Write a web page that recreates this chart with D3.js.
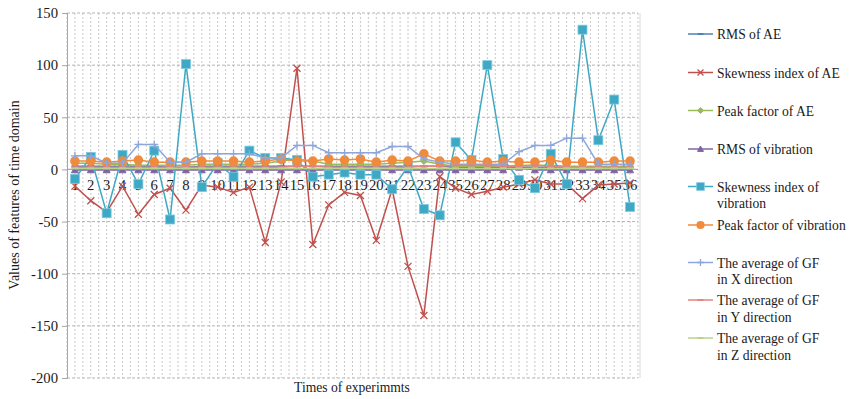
<!DOCTYPE html>
<html>
<head>
<meta charset="utf-8">
<script src="https://cdn.jsdelivr.net/npm/d3@7/dist/d3.min.js"></script>
<style>
  html, body { margin: 0; padding: 0; background: #fff; }
  svg { display: block; }
  text { font-family: "Liberation Serif", "Times New Roman", serif; fill: #1a1a1a; }
</style>
</head>
<body>
<svg id="chart" width="860" height="399"></svg>
<script>
// Experiment numbers (the 25th label reads "35" on the axis)
const categories = d3.range(1, 37);
const tickLabels = ["1","2","3","4","5","6","7","8","9","10","11","12","13","14","15","16","17","18",
  "19","20","21","22","23","24","35","26","27","28","29","30","31","32","33","34","35","36"];
const yTicks = [150, 100, 50, 0, -50, -100, -150, -200];

const seriesNames = ["RMS of AE", "Skewness index of AE", "Peak factor of AE", "RMS of vibration",
  "Skewness index of vibration", "Peak factor of vibration",
  "The average of GF in X direction", "The average of GF in Y direction", "The average of GF in Z direction"];

const rmsAE = [3,3,3,3,3,3,2,2,3,3,3,3,3,3,3,3,3,3,3,3,3,3,3,3,2,2,2,2,2,2,2,2,2,2,2,2];
const skewAE = [-16,-30,-41,-16,-43,-24,-18,-39,-15,-17,-22,-17,-70,-12,97,-72,-34,-22,-25,-68,
  -19,-93,-140,-7,-18,-24,-21,-17,-14,-10,-14,-14,-28,-15,-14,-13];
const peakAE = [6,6,5,5,4,4,4,4,5,5,5,5,6,8,10,8,5,5,5,5,6,7,8,5,3,3,3,3,4,4,4,3,3,3,3,3];
const rmsVib = [-0.5,-0.5,-0.5,-0.5,-0.5,-0.5,-0.5,-0.5,-0.5,-0.5,-0.5,-0.5,-0.5,-0.5,-0.5,-0.5,-0.5,-0.5,
  -0.5,-0.5,-0.5,-0.5,-0.5,-0.5,-0.5,-0.5,-0.5,-0.5,2,-0.5,-0.5,-0.5,-0.5,-0.5,-0.5,-0.5];
const skewVib = [-9,12,-42,14,-14,18,-48,101,-17,6,-7,18,11,11,9,-7,-5,-3,-5,-5,-19,3,-38,-44,
  26,9,100,10,-10,-18,15,-14,134,28,67,-36];
const peakVib = [8,8,7,8,9,7,7,7,8,8,8,7,8,10,8,8,10,9,10,7,9,8,15,8,8,9,7,8,7,7,9,7,7,7,8,8];
const gfX = [13,13,6,6,24,24,7,7,15,15,15,15,11,11,23,23,16,16,16,16,22,22,10,7,5,5,5,5,17,23,23,30,30,5,5,5];
const gfY = [2,2,2,2,2,2,2,2,2,2,2,2,2,2,3,3,2,2,2,2,2,2,3,3,4,4,4,3,3,4,3,2,2,2,2,2];
const gfZ = [1,1,1,1,1,1,1,1,1,1,1,1,1,1,1,1,1,1,1,1,1,1,1,1,1,1,1,1,1,1,1,1,1,1,1,1];

const seriesValues = [rmsAE, skewAE, peakAE, rmsVib, skewVib, peakVib, gfX, gfY, gfZ];
const colors = ["#4F81BD", "#C0504D", "#9BBB59", "#8064A2", "#3FA8C4", "#F08A3C", "#8FA6DA", "#E08582", "#B9D48A"];
const markers = ["dash", "x", "diamond", "triangle", "square", "circle", "plus", "dash", "dash"];

const svg = d3.select("#chart");
const plot = { left: 67, right: 638, top: 13, bottom: 378 };

const x = d3.scalePoint().domain(categories).range([plot.left, plot.right]).padding(0.5);
const y = d3.scaleLinear().domain([-200, 150]).range([plot.bottom, plot.top]);
const step = x.step();

// Vertical dashed gridlines at every half category
const gridG = svg.append("g");
const halfSteps = d3.range(0, categories.length * 2 + 1);
gridG.selectAll("line.v").data(halfSteps).join("line")
  .attr("x1", d => plot.left + d * step / 2).attr("x2", d => plot.left + d * step / 2)
  .attr("y1", plot.top).attr("y2", plot.bottom)
  .attr("stroke", "#c8c8c8").attr("stroke-width", 1).attr("stroke-dasharray", "2,2");
// Horizontal dashed gridlines
gridG.selectAll("line.h").data(yTicks.filter(d => d !== 0)).join("line")
  .attr("x1", plot.left).attr("x2", plot.right)
  .attr("y1", d => y(d)).attr("y2", d => y(d))
  .attr("stroke", "#b4b4b4").attr("stroke-width", 1).attr("stroke-dasharray", "3,2");
// Right plot border
gridG.append("line").attr("x1", 640).attr("x2", 640).attr("y1", plot.top).attr("y2", plot.bottom)
  .attr("stroke", "#d9d9d9").attr("stroke-width", 1);

// Y axis (plain hyphen for negative numbers)
const yAxis = d3.axisLeft(y).tickValues(yTicks).tickSize(5).tickPadding(4).tickFormat(d => String(d));
const yAxisG = svg.append("g").attr("transform", `translate(${plot.left},0)`).call(yAxis);
yAxisG.select(".domain").attr("stroke", "#a6a6a6");
yAxisG.selectAll(".tick line").attr("stroke", "#a6a6a6");
yAxisG.selectAll(".tick text").attr("font-size", 14.7).attr("fill", "#1a1a1a")
  .attr("font-family", "Liberation Serif, serif");

// Zero line (category axis)
svg.append("line").attr("x1", plot.left).attr("x2", plot.right)
  .attr("y1", y(0)).attr("y2", y(0)).attr("stroke", "#a6a6a6").attr("stroke-width", 1.2);

// Category labels just under the zero line
svg.append("g").selectAll("text").data(categories).join("text")
  .attr("x", d => x(d)).attr("y", y(0) + 21)
  .attr("text-anchor", "middle").attr("font-size", 14.7)
  .text((d, i) => tickLabels[i]);

// Axis titles
svg.append("text").attr("x", 352).attr("y", 392).attr("text-anchor", "middle")
  .attr("font-size", 13.6).text("Times of experimmts");
svg.append("text").attr("transform", "translate(19,195) rotate(-90)").attr("text-anchor", "middle")
  .attr("font-size", 14).text("Values of features of time domain");

// Marker drawing helper
function drawMarker(g, type, color, cx, cy, scale) {
  const s = scale || 1;
  if (type === "dash") {
    g.append("line").attr("x1", cx - 3.5 * s).attr("x2", cx + 3.5 * s).attr("y1", cy).attr("y2", cy)
      .attr("stroke", color).attr("stroke-width", 2);
  } else if (type === "x") {
    const r = 3.5 * s;
    g.append("path").attr("d", `M${cx - r},${cy - r}L${cx + r},${cy + r}M${cx - r},${cy + r}L${cx + r},${cy - r}`)
      .attr("stroke", color).attr("stroke-width", 1.3).attr("fill", "none");
  } else if (type === "plus") {
    const r = 4 * s;
    g.append("path").attr("d", `M${cx - r},${cy}L${cx + r},${cy}M${cx},${cy - r}L${cx},${cy + r}`)
      .attr("stroke", color).attr("stroke-width", 1.3).attr("fill", "none");
  } else if (type === "diamond") {
    const r = 3.5 * s;
    g.append("path").attr("d", `M${cx},${cy - r}L${cx + r},${cy}L${cx},${cy + r}L${cx - r},${cy}Z`)
      .attr("fill", color).attr("stroke", color);
  } else if (type === "triangle") {
    const r = 3.5 * s;
    g.append("path").attr("d", `M${cx},${cy - r}L${cx + r},${cy + r * 0.8}L${cx - r},${cy + r * 0.8}Z`)
      .attr("fill", color).attr("stroke", color);
  } else if (type === "square") {
    const r = 4.5 * s;
    g.append("rect").attr("x", cx - r).attr("y", cy - r).attr("width", 2 * r).attr("height", 2 * r)
      .attr("fill", color).attr("stroke", "#7fcbe0").attr("stroke-width", 0.8);
  } else if (type === "circle") {
    g.append("circle").attr("cx", cx).attr("cy", cy).attr("r", 4.8 * s).attr("fill", color);
  }
}

// Series lines and markers
const line = d3.line().x((d, i) => x(categories[i])).y(d => y(d));
seriesValues.forEach((vals, si) => {
  const g = svg.append("g");
  g.append("path").datum(vals).attr("d", line)
    .attr("fill", "none").attr("stroke", colors[si]).attr("stroke-width", 1.5);
  vals.forEach((v, i) => drawMarker(g, markers[si], colors[si], x(categories[i]), y(v)));
});

// Legend
const legendRows = [
  ["RMS of AE"], ["Skewness index of AE"], ["Peak factor of AE"], ["RMS of vibration"],
  ["Skewness index of", "vibration"], ["Peak factor of vibration"],
  ["The average of GF", "in X direction"], ["The average of GF", "in Y direction"], ["The average of GF", "in Z direction"]
];
const legendY = [34, 72.5, 110.5, 149, 186.5, 225, 262.5, 300, 338];
legendRows.forEach((rows, i) => {
  const g = svg.append("g");
  const ly = legendY[i];
  g.append("line").attr("x1", 688).attr("x2", 713).attr("y1", ly).attr("y2", ly)
    .attr("stroke", colors[i]).attr("stroke-width", 1.5);
  drawMarker(g, markers[i], colors[i], 700.5, ly, 0.85);
  rows.forEach((t, k) => {
    g.append("text").attr("x", 717).attr("y", ly + 5 + k * 16.5).attr("font-size", 13.6).text(t);
  });
});
</script>
</body>
</html>
